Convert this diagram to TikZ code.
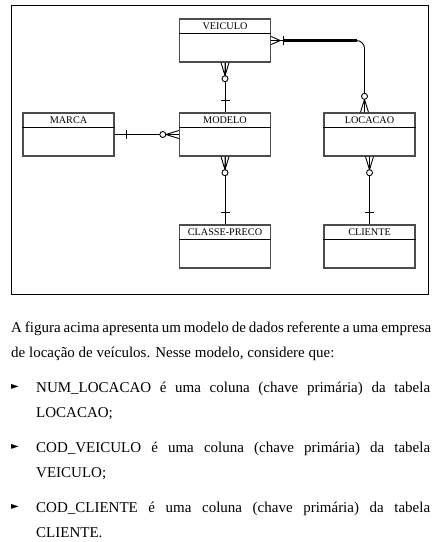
\documentclass[tikz,border=0pt]{standalone}
\usepackage{fontspec}
\setmainfont{Liberation Serif}
\newfontfamily\symbfont{DejaVu Sans}
\pgfdeclarelayer{edgelayer}
\pgfdeclarelayer{nodelayer}
\pgfsetlayers{edgelayer,nodelayer,main}
\tikzstyle{edge}=[draw=black, line width=0.9pt]
\tikzstyle{entity}=[rectangle, fill=white, draw=black!70, line width=1.4pt, minimum width=91pt, minimum height=43pt, inner sep=0pt]
\tikzstyle{title}=[anchor=north, inner sep=0pt, yshift=-4.2pt, font=\fontsize{10.2}{11}\selectfont]
\tikzstyle{para}=[anchor=base west, inner sep=0pt, text width=420pt, align=justify, font=\fontsize{15}{25}\selectfont]
\tikzstyle{item}=[para, text width=394pt]
\tikzstyle{bullet}=[anchor=base west, inner sep=0pt, font=\symbfont\fontsize{10}{10}\selectfont]
\tikzset{
  many/.pic={\draw[edge] (0,-4) -- (9,0) -- (0,4) (0,0) -- (9,0);},
  zeromany/.pic={\draw[edge] (0,-4) -- (13,0) -- (0,4) (0,0) -- (13,0);
                 \draw[edge, fill=white] (16,0) circle (3pt);},
  one/.pic={\draw[edge] (12,-4.5) -- (12,4.5);}
}

\begin{document}
\begin{tikzpicture}[x=1pt, y=1pt]
	\useasboundingbox (0,0) rectangle (435,-542);
	\draw[line width=0.8pt] (11,-5) rectangle (428,-294);
	\begin{pgfonlayer}{nodelayer}
		\node [style=entity, label={[title]north:VEICULO}] (0) at (225, -40.5) {};
		\node [style=entity, label={[title]north:MARCA}] (1) at (68.5, -134.5) {};
		\node [style=entity, label={[title]north:MODELO}] (2) at (225, -134.5) {};
		\node [style=entity, label={[title]north:LOCACAO}] (3) at (369.5, -134.5) {};
		\node [style=entity, label={[title]north:CLASSE-PRECO}] (4) at (225, -246.5) {};
		\node [style=entity, label={[title]north:CLIENTE}] (5) at (369.5, -246.5) {};
		\foreach \n in {0,...,5}
			\draw ([yshift=-15pt]\n.north west) -- ([yshift=-15pt]\n.north east);
	\end{pgfonlayer}
	\begin{pgfonlayer}{edgelayer}
		\coordinate (c) at ([xshift=-13pt]3.north |- 0.east);
		\draw [style=edge] (0) to (2);
		\draw [style=edge] (1) to (2);
		\draw [style=edge] (2) to (4);
		\draw [style=edge] (3) to (5);
		\draw [style=edge, rounded corners=8pt] (0) -| ([xshift=-5pt]3.north);
		\draw [line width=2.6pt] ([xshift=12pt]0.east) to (c);
	\end{pgfonlayer}
	% cardinality marks
	\pic [rotate=-90] at (0.south) {zeromany};
	\pic [rotate=90] at (2.north) {one};
	\pic [rotate=180] at (2.west) {zeromany};
	\pic at (1.east) {one};
	\pic [rotate=-90] at (2.south) {zeromany};
	\pic [rotate=90] at (4.north) {one};
	\pic [rotate=-90] at (3.south) {zeromany};
	\pic [rotate=90] at (5.north) {one};
	\pic at (0.east) {many};
	\pic at (0.east) {one};
	\pic [rotate=90] at ([xshift=-5pt]3.north) {zeromany};
	% text below the figure
	\node [style=para] (p) at (11, -332) {A figura acima apresenta um modelo de dados referente a uma empresa\linebreak de locação de veículos. Nesse modelo, considere que:};
	\node [style=bullet] (b1) at (11, -389) {►};
	\node [style=item] (i1) at (36, -392) {NUM\_LOCACAO é uma coluna (chave primária) da tabela\linebreak LOCACAO;};
	\node [style=bullet] (b2) at (11, -449) {►};
	\node [style=item] (i2) at (36, -452) {COD\_VEICULO é uma coluna (chave primária) da tabela\linebreak VEICULO;};
	\node [style=bullet] (b3) at (11, -509) {►};
	\node [style=item] (i3) at (36, -512) {COD\_CLIENTE é uma coluna (chave primária) da tabela\linebreak CLIENTE.};
\end{tikzpicture}
\end{document}
